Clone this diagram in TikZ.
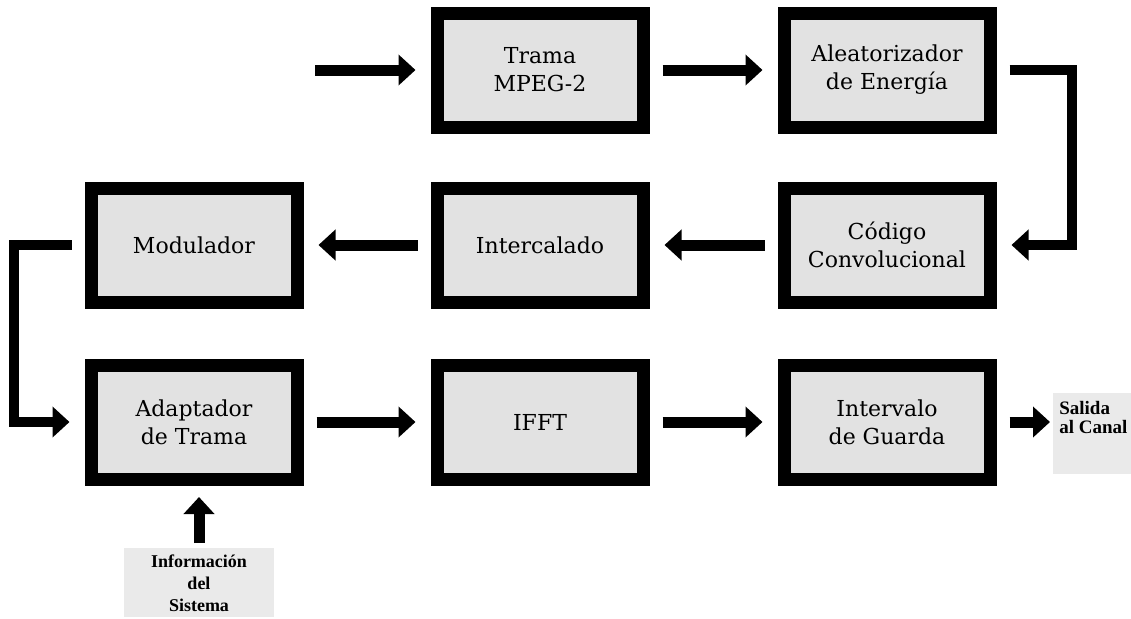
\documentclass[tikz,border=0pt]{standalone}
\usepackage{fontspec}
\setmainfont{DejaVu Serif}
\newfontfamily\tagfont{Liberation Serif}
\usetikzlibrary{arrows.meta}

\definecolor{boxfill}{RGB}{226,226,226}
\definecolor{tagfill}{RGB}{234,234,234}

\tikzset{
  block/.style={draw=black, line width=6.5pt, fill=boxfill,
    minimum width=103pt, minimum height=57pt, align=center,
    font=\fontsize{11}{14}\selectfont},
  flow/.style={line width=5.5pt, -{Triangle[width=15pt,length=8.5pt]},
    shorten <=6.5pt, shorten >=7.5pt},
  tag/.style={fill=tagfill, inner xsep=2pt,
    font=\tagfont\bfseries\fontsize{9.5}{9.5}\selectfont}
}

\begin{document}
\begin{tikzpicture}[x=0.5pt, y=-0.5pt]
    \clip (0,0) rectangle (1131,618);
    \useasboundingbox (0,0) rectangle (1131,618);
    % Blocks, three rows
    \node[block] (trama)  at (540,70)  {Trama\\MPEG-2};
    \node[block] (aleat)  at (887,70)  {Aleatorizador\\de Energía};
    \node[block] (codigo) at (887,245) {Código\\Convolucional};
    \node[block] (interc) at (540,245) {Intercalado};
    \node[block] (modul)  at (194,245) {Modulador};
    \node[block] (adapt)  at (194,422) {Adaptador\\de Trama};
    \node[block] (ifft)   at (540,422) {IFFT};
    \node[block] (guarda) at (887,422) {Intervalo\\de Guarda};
    % Side texts
    \node[tag, anchor=north, align=center, minimum width=75pt, inner ysep=3pt,
      font=\tagfont\bfseries\fontsize{9}{11}\selectfont] (info) at (199,548)
      {Información\\del\\Sistema};
    \node[tag, anchor=north west, align=left, minimum width=40pt, inner ysep=4pt,
      text depth=16pt] (salida) at (1053,393) {Salida\\al Canal};
    \coordinate (src) at (315,70);
    % Signal path
    \draw[flow, shorten <=0pt] (src) -- (trama.west);
    \draw[flow] (trama) -- (aleat);
    \draw[flow, line width=5pt] (aleat.east) -- ++(75.5,0) |- (codigo.east);
    \draw[flow] (codigo) -- (interc);
    \draw[flow] (interc) -- (modul);
    \draw[flow, line width=5pt] (modul.west) -- ++(-71,0) |- (adapt.west);
    \draw[flow] (adapt) -- (ifft);
    \draw[flow] (ifft) -- (guarda);
    \draw[flow, shorten >=1.5pt] (guarda.east) -- (salida.west |- guarda.east);
    \draw[flow, shorten <=2.5pt, shorten >=5.75pt] (info.north) -- (info.north |- adapt.south);
\end{tikzpicture}
\end{document}
